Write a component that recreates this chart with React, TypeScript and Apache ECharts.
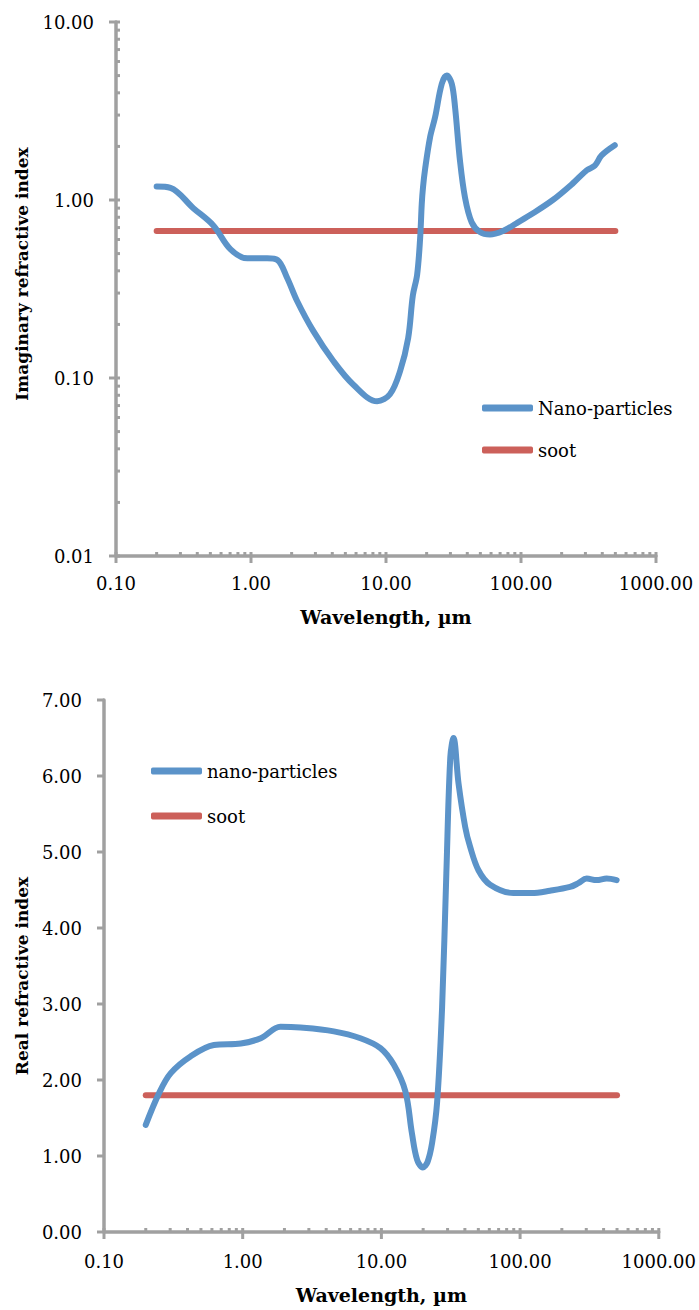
import React, { useEffect, useRef } from "react";
import * as echarts from "echarts";

// ---- Data ----
const imagX = [0.2, 0.253, 0.374, 0.526, 0.703, 0.94, 1.32, 1.57, 1.85, 2.2, 2.89, 4.06, 5.71, 8.6, 10.7, 12.7, 14.6, 15.8, 17.0, 17.9, 18.4, 18.8, 19.5, 21.2, 23.1, 25.9, 28.2, 30.7, 32.5, 35.3, 38.5, 43.1, 49.7, 58.9, 73.5, 92.7, 116, 172, 242, 307, 352, 395, 495];
const imagY = [1.19, 1.17, 0.9, 0.72, 0.53, 0.47, 0.47, 0.46, 0.366, 0.27, 0.184, 0.125, 0.092, 0.074, 0.081, 0.109, 0.168, 0.29, 0.38, 0.61, 0.95, 1.18, 1.5, 2.25, 2.92, 4.5, 5.0, 4.5, 3.3, 1.67, 1.03, 0.75, 0.66, 0.64, 0.67, 0.74, 0.82, 1.0, 1.24, 1.47, 1.56, 1.78, 2.03];
const sootImagX = [0.2, 500];
const sootImagY = [0.67, 0.67];

const realX = [0.2, 0.25, 0.303, 0.42, 0.62, 0.97, 1.35, 1.87, 2.61, 4.54, 7.06, 9.84, 12.3, 14.9, 16.6, 18.1, 19.9, 21.5, 23.2, 25.2, 27.4, 29.4, 31.4, 33.1, 36, 40.2, 43.6, 50.1, 60.8, 89.5, 121, 164, 229, 263, 302, 356, 421, 497];
const realY = [1.41, 1.83, 2.09, 2.31, 2.46, 2.48, 2.55, 2.7, 2.69, 2.64, 2.55, 2.42, 2.2, 1.85, 1.3, 0.95, 0.85, 0.92, 1.17, 1.7, 2.96, 4.72, 6.25, 6.5, 5.9, 5.33, 5.07, 4.76, 4.57, 4.46, 4.46, 4.49, 4.54, 4.59, 4.65, 4.63, 4.65, 4.63];
const sootRealX = [0.2, 500];
const sootRealY = [1.8, 1.8];

// Axis tick values
const xMajorTicks = [0.1, 1, 10, 100, 1000];
const logDecades = [0.1, 1, 10, 100];
const logMultipliers = [2, 3, 4, 5, 6, 7, 8, 9];
const imagYMajorTicks = [0.01, 0.1, 1, 10];
const imagYDecades = [0.01, 0.1, 1];
const realYMajorTicks = [0, 1, 2, 3, 4, 5, 6, 7];

const legendTop = ["Nano-particles", "soot"];
const legendBottom = ["nano-particles", "soot"];

const FONT = "DejaVu Serif";
const AXIS_COLOR = "#a0a0a0";
const BLUE = "#5b93c9";
const RED = "#cc605a";
const TICK_W = 3;

const zip = (xs: number[], ys: number[]) => xs.map((x, i) => [x, ys[i]]);

function minorVals(decades: number[]) {
  const out: number[] = [];
  decades.forEach((d) => logMultipliers.forEach((m) => out.push(+(d * m).toPrecision(6))));
  return out;
}

// custom series drawing tick marks through the axes' own scales
function xTickSeries(gridIdx: number, yBase: number, majorOut: number, majorIn: number, minorIn: number, minors: number[]) {
  const data = [
    ...xMajorTicks.map((v) => [v, yBase, 1]),
    ...minors.map((v) => [v, yBase, 0]),
  ];
  return {
    type: "custom",
    xAxisIndex: gridIdx,
    yAxisIndex: gridIdx,
    silent: true,
    clip: false,
    z: 5,
    encode: { x: 0, y: 1 },
    data,
    renderItem: (_p: any, api: any) => {
      const pt = api.coord([api.value(0), api.value(1)]);
      const major = api.value(2) === 1;
      return {
        type: "line",
        shape: { x1: pt[0], y1: pt[1] + (major ? majorOut : 0), x2: pt[0], y2: pt[1] - (major ? majorIn : minorIn) },
        style: { stroke: AXIS_COLOR, lineWidth: TICK_W },
      };
    },
  };
}

function yTickSeries(gridIdx: number, xBase: number, majors: number[], minors: number[], majorOut: number, majorIn: number, minorIn: number) {
  const data = [...majors.map((v) => [xBase, v, 1]), ...minors.map((v) => [xBase, v, 0])];
  return {
    type: "custom",
    xAxisIndex: gridIdx,
    yAxisIndex: gridIdx,
    silent: true,
    clip: false,
    z: 5,
    encode: { x: 0, y: 1 },
    data,
    renderItem: (_p: any, api: any) => {
      const pt = api.coord([api.value(0), api.value(1)]);
      const major = api.value(2) === 1;
      return {
        type: "line",
        shape: { x1: pt[0] - (major ? majorOut : 0), y1: pt[1], x2: pt[0] + (major ? majorIn : minorIn), y2: pt[1] },
        style: { stroke: AXIS_COLOR, lineWidth: TICK_W },
      };
    },
  };
}

export default function App() {
  const ref = useRef<HTMLDivElement>(null);
  useEffect(() => {
    document.body.style.margin = "0";
    if (!ref.current) return;
    const chart = echarts.init(ref.current, null, { renderer: "svg" });
    const labelStyle = { fontFamily: FONT, fontSize: 18, color: "#000" };
    const xNameStyle = { fontFamily: FONT, fontSize: 19, fontWeight: "bold", color: "#000" };
    const axisLine = { show: true, lineStyle: { color: AXIS_COLOR, width: 3.5 } };
    const fmt = (v: number) => Number(v).toFixed(2);

    const xAxisCommon = (gridIndex: number, margin: number, nameGap: number) => ({
      gridIndex,
      type: "log",
      logBase: 10,
      min: 0.1,
      max: 1000,
      axisLine,
      axisTick: { show: false },
      splitLine: { show: false },
      minorTick: { show: false },
      axisLabel: { ...labelStyle, margin, formatter: fmt, showMinLabel: true, showMaxLabel: true },
      name: "Wavelength, µm",
      nameLocation: "middle",
      nameGap,
      nameTextStyle: xNameStyle,
    });

    const option: any = {
      animation: false,
      backgroundColor: "#fff",
      grid: [
        { left: 116, top: 22, width: 540, height: 534 },
        { left: 104, top: 700, width: 556, height: 532 },
      ],
      xAxis: [xAxisCommon(0, 18, 51), xAxisCommon(1, 20, 53)],
      yAxis: [
        {
          gridIndex: 0,
          type: "log",
          logBase: 10,
          min: 0.01,
          max: 10,
          axisLine,
          axisTick: { show: false },
          splitLine: { show: false },
          axisLabel: { ...labelStyle, margin: 22, formatter: fmt },
          name: "Imaginary refractive index",
          nameLocation: "middle",
          nameGap: 86,
          nameTextStyle: { fontFamily: FONT, fontSize: 17, fontWeight: "bold", color: "#000", padding: [0, 0, 0, 30] },
        },
        {
          gridIndex: 1,
          type: "value",
          min: 0,
          max: 7,
          interval: 1,
          axisLine,
          axisTick: { show: false },
          splitLine: { show: false },
          axisLabel: { ...labelStyle, margin: 22, formatter: fmt },
          name: "Real refractive index",
          nameLocation: "middle",
          nameGap: 74,
          nameTextStyle: { fontFamily: FONT, fontSize: 17, fontWeight: "bold", color: "#000", padding: [0, 20, 0, 0] },
        },
      ],
      legend: [
        {
          data: legendTop,
          orient: "vertical",
          left: 477,
          top: 393,
          itemWidth: 51,
          itemHeight: 7,
          itemGap: 22,
          icon: "roundRect",
          textStyle: { fontFamily: FONT, fontSize: 18, color: "#000", lineHeight: 20 },
          selectedMode: false,
        },
        {
          data: legendBottom,
          orient: "vertical",
          left: 146,
          top: 756,
          itemWidth: 51,
          itemHeight: 7,
          itemGap: 25,
          icon: "roundRect",
          textStyle: { fontFamily: FONT, fontSize: 18, color: "#000", lineHeight: 20 },
          selectedMode: false,
        },
      ],
      series: [
        {
          name: "Nano-particles",
          type: "line",
          xAxisIndex: 0,
          yAxisIndex: 0,
          data: zip(imagX, imagY),
          showSymbol: false,
          smooth: 0.35,
          color: BLUE,
          lineStyle: { color: BLUE, width: 6, cap: "round", join: "round" },
          z: 3,
        },
        {
          name: "soot",
          type: "line",
          xAxisIndex: 0,
          yAxisIndex: 0,
          data: zip(sootImagX, sootImagY),
          showSymbol: false,
          color: RED,
          lineStyle: { color: RED, width: 6, cap: "round" },
          z: 2,
        },
        {
          name: "nano-particles",
          type: "line",
          xAxisIndex: 1,
          yAxisIndex: 1,
          data: zip(realX, realY),
          showSymbol: false,
          smooth: 0.35,
          color: BLUE,
          lineStyle: { color: BLUE, width: 6, cap: "round", join: "round" },
          z: 3,
        },
        {
          name: "soot",
          type: "line",
          xAxisIndex: 1,
          yAxisIndex: 1,
          data: zip(sootRealX, sootRealY),
          showSymbol: false,
          color: RED,
          lineStyle: { color: RED, width: 6, cap: "round" },
          z: 2,
        },
        xTickSeries(0, 0.01, 7, 4, 4, minorVals(logDecades)),
        yTickSeries(0, 0.1, imagYMajorTicks, minorVals(imagYDecades), 7, 4, 4),
        xTickSeries(1, 0, 7, 4, 4, minorVals(logDecades)),
        yTickSeries(1, 0.1, realYMajorTicks, [], 7, 0, 0),
      ],
    };
    chart.setOption(option);
    return () => chart.dispose();
  }, []);
  return <div ref={ref} style={{ width: 699, height: 1310 }} />;
}
